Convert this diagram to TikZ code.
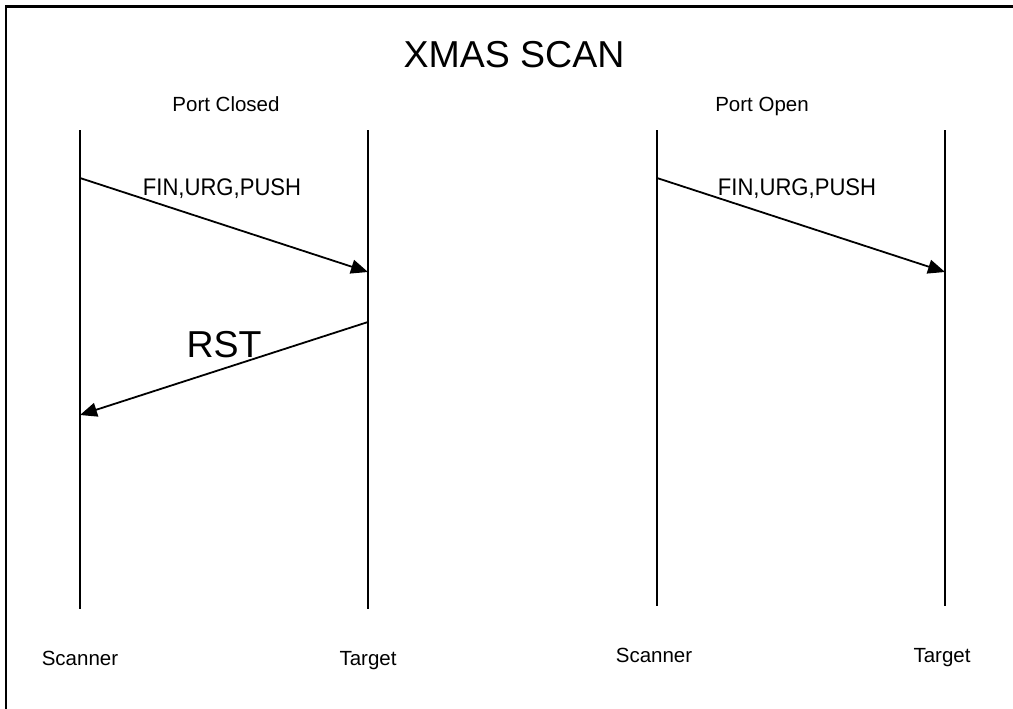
\documentclass[tikz,border=0pt]{standalone}
\usepackage{fontspec}
\setmainfont{Liberation Sans}
\usetikzlibrary{arrows.meta, positioning}

\begin{document}
\begin{tikzpicture}[
        x=1pt, y=-1pt,
        lifeline/.style={line width=1.8pt},
        msg/.style={-{Triangle[length=17pt, width=14pt]}, line width=1.8pt},
        label/.style={anchor=base, inner sep=0pt, font=\fontsize{20.5}{24}\selectfont},
        flags/.style={anchor=base, inner sep=0pt, font=\fontsize{24}{28}\selectfont, xscale=0.92},
        title/.style={anchor=base, inner sep=0pt, font=\fontsize{37.5}{44}\selectfont}
    ]
        \useasboundingbox (0,0) rectangle (1013,709);
        % frame
        \draw[line width=2.6pt] (6,730) -- (6,6.5) -- (1030,6.5);
        \node[title] (heading) at (514,68) {XMAS SCAN};
        \node[label] (closed) at (226,112) {Port Closed};
        \node[label] (open) at (762,112) {Port Open};
        % lifelines
        \coordinate (scanA top) at (80,130);
        \coordinate (scanA bot) at (80,609);
        \coordinate (targA top) at (368,130);
        \coordinate (targA bot) at (368,609);
        \coordinate (scanB top) at (657,130);
        \coordinate (scanB bot) at (657,606);
        \coordinate (targB top) at (945,130);
        \coordinate (targB bot) at (945,606);
        \draw[lifeline] (scanA top) -- (scanA bot);
        \draw[lifeline] (targA top) -- (targA bot);
        \draw[lifeline] (scanB top) -- (scanB bot);
        \draw[lifeline] (targB top) -- (targB bot);
        % messages
        \coordinate (finA start) at (80,178);
        \coordinate (finA end) at (368,272);
        \coordinate (rst start) at (368,322);
        \coordinate (rst end) at (80,415);
        \coordinate (finB start) at (657,178);
        \coordinate (finB end) at (945,272);
        \draw[msg] (finA start) -- (finA end);
        \draw[msg] (rst start) -- (rst end);
        \draw[msg] (finB start) -- (finB end);
        \node[flags] (finA) at (222,195) {FIN,URG,PUSH};
        \node[flags] (finB) at (797,195) {FIN,URG,PUSH};
        \node[title] (rst) at (224,357) {RST};
        % endpoints
        \node[label] (scannerA) at (80,665) {Scanner};
        \node[label] (targetA) at (368,665) {Target};
        \node[label] (scannerB) at (654,662) {Scanner};
        \node[label] (targetB) at (942,662) {Target};
    \end{tikzpicture}
\end{document}
